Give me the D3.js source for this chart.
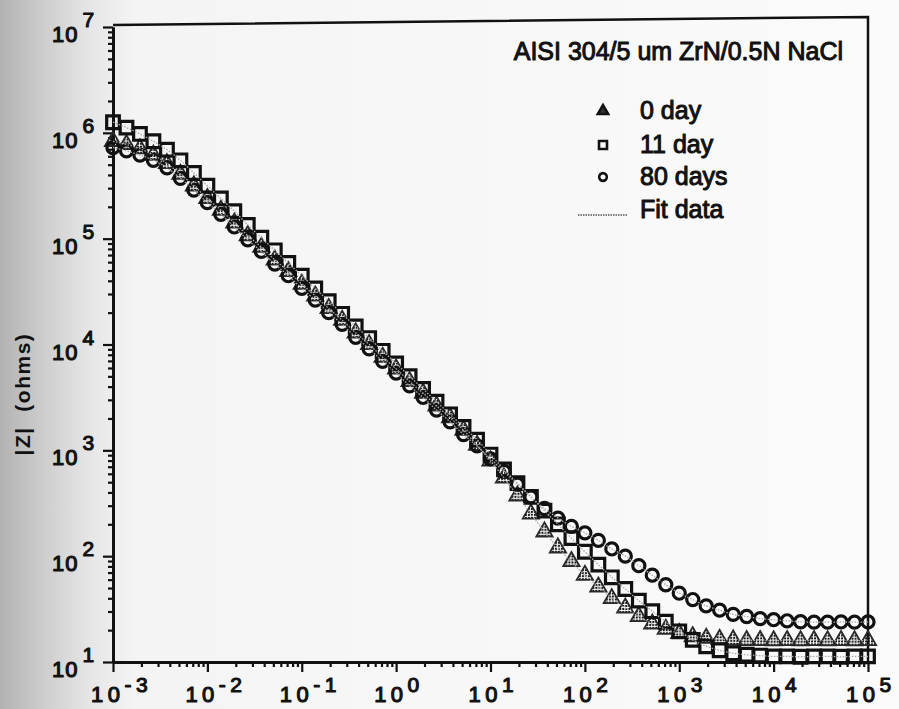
<!DOCTYPE html>
<html>
<head>
<meta charset="utf-8">
<script src="https://cdn.jsdelivr.net/npm/d3@7"></script>
<style>
  body { margin: 0; background: #fff; }
  svg { display: block; font-family: Arial, "Liberation Sans", Helvetica, sans-serif; }
</style>
</head>
<body>
<svg id="chart" width="899" height="709"></svg>
<script>
// frequency (Hz), 7 points per decade
const freq = [
  1e-3, 1.39e-3, 1.93e-3, 2.68e-3, 3.73e-3, 5.18e-3, 7.2e-3,
  1e-2, 1.39e-2, 1.93e-2, 2.68e-2, 3.73e-2, 5.18e-2, 7.2e-2,
  0.1, 0.139, 0.193, 0.268, 0.373, 0.518, 0.72,
  1, 1.39, 1.93, 2.68, 3.73, 5.18, 7.2,
  10, 13.9, 19.3, 26.8, 37.3, 51.8, 72,
  100, 139, 193, 268, 373, 518, 720,
  1000, 1390, 1930, 2680, 3730, 5180, 7200,
  10000, 13900, 19300, 26800, 37300, 51800, 72000,
  100000
];

// |Z| (ohms) for each immersion time
const day0 = [
  8.32e5, 7.76e5, 7.08e5, 6.17e5, 5.13e5, 4.07e5, 3.16e5,
  2.40e5, 1.86e5, 1.41e5, 1.07e5, 8.32e4, 6.31e4, 4.90e4,
  3.72e4, 2.88e4, 2.19e4, 1.70e4, 1.29e4, 1.00e4, 7590,
  5890, 4470, 3470, 2630, 2040, 1550, 1120,
  794, 550, 372, 251, 170, 120, 89.1,
  66.1, 51.3, 39.8, 32.4, 26.9, 22.9, 20.4,
  18.6, 17.4, 16.8, 16.4, 16.2, 16.0, 16.0,
  15.9, 16.0, 15.9, 16.0, 15.9, 16.0, 15.9,
  16.0
];
const day11 = [
  1.26e6, 1.12e6, 9.77e5, 8.32e5, 6.92e5, 5.50e5, 4.17e5,
  3.16e5, 2.40e5, 1.82e5, 1.35e5, 1.02e5, 7.76e4, 5.89e4,
  4.47e4, 3.39e4, 2.57e4, 1.95e4, 1.48e4, 1.15e4, 8710,
  6610, 5010, 3800, 2880, 2190, 1660, 1260,
  912, 661, 490, 363, 269, 200, 148,
  110, 83.2, 63.1, 49.0, 38.0, 30.2, 24.0,
  19.5, 16.2, 14.1, 12.9, 12.1, 11.7, 11.5,
  11.3, 11.3, 11.2, 11.3, 11.3, 11.2, 11.3,
  11.3
];
const day80 = [
  7.24e5, 6.76e5, 6.17e5, 5.50e5, 4.68e5, 3.72e5, 2.88e5,
  2.19e5, 1.70e5, 1.29e5, 9.77e4, 7.59e4, 5.75e4, 4.47e4,
  3.39e4, 2.63e4, 2.00e4, 1.55e4, 1.17e4, 9120, 6920,
  5370, 4070, 3160, 2400, 1860, 1410, 1100,
  832, 631, 479, 363, 282, 229, 191,
  166, 141, 117, 100, 81.3, 66.1, 53.7,
  44.7, 38.9, 33.9, 30.9, 28.2, 26.9, 25.7,
  25.1, 24.5, 24.0, 23.8, 23.8, 23.9, 23.8,
  23.9
];

const xTickExp = [-3, -2, -1, 0, 1, 2, 3, 4, 5];
const yTickExp = [1, 2, 3, 4, 5, 6, 7];
const seriesNames = ["0 day", "11 day", "80 days"];
const fitName = "Fit data";
const chartTitle = "AISI 304/5 um ZrN/0.5N NaCl";
const yTitle = "|Z|  (ohms)";

const ink = "#111";

/** Bode magnitude plot, drawn the way the scanned figure looks */
class BodeChart {

    constructor(svgId) {
        this.svg = d3.select(svgId);
        this.x = d3.scaleLog().domain([1e-3, 1e5]).range([113, 868]);
        this.y = d3.scaleLog().domain([10, 1e7]).range([662, 27]);
        this.series = [
            {name: seriesNames[0], values: day0, symbol: d3.symbolTriangle, size: 115, fill: "url(#hatch)", stroke: "#2a2a2a", sw: 1.8},
            {name: seriesNames[1], values: day11, symbol: d3.symbolSquare, size: 160, fill: "none", stroke: ink, sw: 3.2},
            {name: seriesNames[2], values: day80, symbol: d3.symbolCircle, size: 115, fill: "none", stroke: ink, sw: 3.2}
        ];
    }

    drawBackground() {
        let defs = this.svg.append("defs");
        let grad = defs.append("linearGradient").attr("id", "scan").attr("x1", 0).attr("x2", 1).attr("y1", 0).attr("y2", 0);
        [[0, "#b2b2b2"], [0.05, "#cecece"], [0.1, "#e6e6e6"], [0.15, "#f4f4f4"], [1, "#fbfbfb"]]
            .forEach(s => grad.append("stop").attr("offset", s[0]).attr("stop-color", s[1]));
        let pat = defs.append("pattern").attr("id", "hatch")
            .attr("width", 3).attr("height", 3).attr("patternUnits", "userSpaceOnUse");
        pat.append("rect").attr("width", 2).attr("height", 2).attr("fill", "#1a1a1a");

        this.svg.append("rect").attr("width", 899).attr("height", 709).attr("fill", "url(#scan)");
    }

    // scanned type looks heavier than a plain regular face
    heavy(sel, w) {
        return sel.attr("fill", ink).attr("stroke", ink).attr("stroke-width", w)
            .attr("stroke-linejoin", "round").attr("paint-order", "stroke");
    }

    drawAxes() {
        let x = this.x, y = this.y;
        let xMajor = xTickExp.map(e => Math.pow(10, e));
        let yMajor = yTickExp.map(e => Math.pow(10, e));
        let isMajor = v => Math.abs(Math.log10(v) - Math.round(Math.log10(v))) < 1e-9;
        let xMinor = x.ticks().filter(v => !isMajor(v));
        let yMinor = y.ticks().filter(v => !isMajor(v));

        let bottom = this.svg.append("g").attr("transform", `translate(0,${y.range()[0]})`);
        bottom.append("g").call(d3.axisBottom(x).tickValues(xMinor).tickSize(5).tickSizeOuter(0).tickFormat(""));
        bottom.append("g").call(d3.axisBottom(x).tickValues(xMajor).tickSize(10).tickSizeOuter(0).tickFormat(""));

        let left = this.svg.append("g").attr("transform", `translate(${x.range()[0]},0)`);
        left.append("g").call(d3.axisLeft(y).tickValues(yMinor).tickSize(5).tickSizeOuter(0).tickFormat(""));
        left.append("g").call(d3.axisLeft(y).tickValues(yMajor).tickSize(10).tickSizeOuter(0).tickFormat(""));

        this.svg.selectAll(".domain").attr("stroke", ink).attr("stroke-width", 3);
        this.svg.selectAll(".tick line").attr("stroke", ink).attr("stroke-width", 2.2);

        // top and right edges of the box (the scan is a little skewed)
        let skew = 8;
        let [x0, x1] = x.range(), [yb, yt] = y.range();
        this.svg.append("path")
            .attr("d", `M${x0},${yt - 2}L${x1},${yt - 2 - skew}L${x1},${yb}`)
            .attr("fill", "none").attr("stroke", ink).attr("stroke-width", 2.5);

        // tick labels with superscript exponents
        let xl = this.svg.append("g").selectAll("text").data(xTickExp).join("text")
            .attr("x", d => x(Math.pow(10, d)) - 22)
            .attr("y", 702)
            .attr("font-size", 22).attr("letter-spacing", 4.5)
            .each(function (d) {
                let t = d3.select(this);
                t.append("tspan").text("10");
                t.append("tspan").attr("dy", -10).attr("font-size", 21).text(d < 0 ? "-" + Math.abs(d) : d);
            });
        this.heavy(xl, 1.1);

        let yl = this.svg.append("g").selectAll("text").data(yTickExp).join("text")
            .attr("x", 52)
            .attr("y", d => y(Math.pow(10, d)) + 15)
            .attr("font-size", 22).attr("letter-spacing", 1)
            .each(function (d) {
                let t = d3.select(this);
                t.append("tspan").text("10");
                t.append("tspan").attr("dx", 4).attr("dy", -15).attr("font-size", 21).text(d);
            });
        this.heavy(yl, 1.1);

        this.svg.append("text")
            .attr("transform", "translate(30,394) rotate(-90)")
            .attr("text-anchor", "middle")
            .attr("font-size", 21).attr("font-weight", "bold").attr("letter-spacing", 1.5)
            .style("white-space", "pre").attr("fill", ink)
            .text(yTitle);
    }

    drawSeries() {
        let x = this.x, y = this.y;
        let fit = d3.line().x((d, i) => x(freq[i])).y(d => y(d)).curve(d3.curveMonotoneX);

        this.series.forEach(s => {
            this.svg.append("g").selectAll("path").data(s.values).join("path")
                .attr("transform", (d, i) => `translate(${x(freq[i])},${y(d)})`)
                .attr("d", d3.symbol().type(s.symbol).size(s.size))
                .attr("fill", s.fill).attr("stroke", s.stroke).attr("stroke-width", s.sw);
        });

        this.series.forEach(s => {
            this.svg.append("path").datum(s.values)
                .attr("d", fit)
                .attr("fill", "none").attr("stroke", "#a8a8a8")
                .attr("stroke-width", 1.3).attr("stroke-dasharray", "1.5,1.5");
        });
    }

    drawLegend() {
        this.heavy(this.svg.append("text")
            .attr("x", 843).attr("y", 60).attr("text-anchor", "end")
            .attr("font-size", 25).text(chartTitle), 1);

        let rows = [119, 153, 185];
        let leg = this.svg.append("g");
        this.series.forEach((s, i) => {
            leg.append("path")
                .attr("transform", `translate(603,${rows[i] - 8})`)
                .attr("d", d3.symbol().type(s.symbol).size(s.size * 0.4))
                .attr("fill", i === 0 ? "#333" : "none").attr("stroke", ink).attr("stroke-width", 2.6);
            this.heavy(leg.append("text").attr("x", 640).attr("y", rows[i])
                .attr("font-size", 25).text(s.name), 1);
        });
        leg.append("line").attr("x1", 578).attr("x2", 627).attr("y1", 215).attr("y2", 215)
            .attr("stroke", "#555").attr("stroke-width", 1.5).attr("stroke-dasharray", "1.5,1");
        this.heavy(leg.append("text").attr("x", 640).attr("y", 218)
            .attr("font-size", 25).text(fitName), 1);
    }
}

let chart = new BodeChart("#chart");
chart.drawBackground();
chart.drawAxes();
chart.drawSeries();
chart.drawLegend();
</script>
</body>
</html>
